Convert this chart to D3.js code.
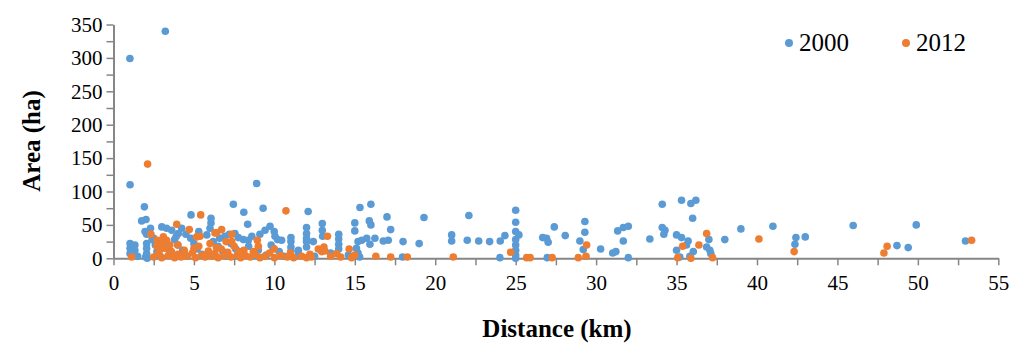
<!DOCTYPE html>
<html>
<head>
<meta charset="utf-8">
<script src="https://cdn.jsdelivr.net/npm/d3@7"></script>
<style>
  body { margin: 0; background: white; }
  svg text { font-family: "Liberation Serif", "Times New Roman", serif !important; }
</style>
</head>
<body>
<div id="chart"></div>
<script>
// series 2000 : distance (km) and area (ha)
var dist2000 = [1.02, 3.22, 1.03, 8.9, 1.92, 7.45, 9.3, 12.1, 8.1, 1.75, 2.02, 4.82, 6.06, 6.06, 6.0, 8.34,
  3.0, 3.3, 3.62, 4.24, 4.03, 1.96, 9.73, 9.99, 10.04, 10.2, 10.45, 9.42, 11.03, 11.03, 11.03, 11.03,
  12.0, 12.0, 12.0, 12.0, 12.0, 12.42, 12.98, 12.98, 13.0, 14.0, 14.0, 14.0, 14.0,
  6.93, 7.55, 7.76, 8.07, 8.38, 9.93, 11.49, 1.03, 1.33, 1.03, 1.03, 1.33, 2.06, 2.06, 2.06, 2.06, 2.0, 2.1, 1.5,
  15.32, 16.0, 17.0, 19.3, 15.0, 15.0, 15.9, 16.0, 17.23, 15.2, 15.43, 15.74, 16.25, 15.94, 16.77, 17.08,
  15.1, 15.2, 15.3, 18.0, 19.0, 17.97, 14.6,
  22.09, 21.02, 21.02, 21.99, 22.7, 23.38, 24.04, 24.33, 24.02, 25, 25, 25, 25.2, 25, 25, 25, 25, 25,
  27.4, 26.68, 26.92, 27.02, 28.08, 29.3, 29.3, 28.99, 29.2, 26.96, 30.28, 31.03, 31.23, 31.34, 31.69, 32.0, 31.69, 32.0,
  33.34, 34.11, 34.11, 34.28, 34.21, 35.31, 35.89, 36.2, 36.0, 35.0, 35.31, 35.72, 35.62, 35.0, 35.2, 36.04, 35.83,
  37.01, 36.87, 37.07, 37.13, 38.0, 39.0, 40.99, 42.42, 42.36, 43.0, 45.98, 48.7, 49.4, 49.9, 52.96,
  2.5, 2.6, 2.7, 2.9, 3.1, 3.3, 3.5, 3.8, 4.0, 4.3, 4.5, 4.8, 5.0, 5.2, 5.5, 5.8, 6.2, 6.5, 6.8, 7.0,
  7.3, 7.6, 8.0, 8.4, 8.7, 9.0, 9.5, 9.8, 10.3, 10.6, 11.5, 12.5, 13.5, 4.5, 5.3, 3.9, 6.6, 7.2, 2.3, 2.4, 8.6, 9.1];
var area2000 = [299, 340, 110, 112, 77, 81, 75, 70, 69, 56, 58, 65, 60, 53, 45, 51,
  47, 45, 42, 45, 37, 40, 48, 40, 33, 28, 27, 42, 31, 25, 17, 11,
  46, 37, 30, 25, 17, 25, 52, 42, 33, 36, 29, 21, 14,
  33, 37, 31, 28, 27, 15, 12, 22, 20, 15, 7, 12, 36, 22, 15, 7, 2, 0, 3,
  76, 81, 62, 61, 53, 41, 56, 50, 43, 25, 27, 30, 30, 21, 26, 27,
  15, 8, 2, 25, 22, 2, 5,
  64, 35, 26, 27, 26, 25, 26, 34, 1, 72, 54, 40, 35, 28, 20, 12, 5, 0,
  47, 31, 30, 24, 34, 55, 39, 26, 13, 1, 14, 8, 10, 41, 46, 48, 26, 1,
  29, 81, 46, 42, 36, 87, 82, 87, 60, 35, 31, 26, 20, 12, 2, 10, 3,
  28, 17, 12, 7, 28, 44, 48, 31, 21, 32, 49, 19, 16, 50, 26,
  30, 20, 10, 3, 25, 15, 5, 28, 20, 12, 4, 30, 22, 14, 6, 35, 25, 18, 10, 3,
  22, 14, 8, 18, 4, 12, 5, 20, 10, 3, 6, 3, 8, 36, 40, 33, 30, 36, 45, 28, 33, 36];

// series 2012
var dist2012 = [2.12, 10.72, 5.42, 3.93, 4.71, 6.41, 6.72, 7.35, 7.35, 2.33, 5.17, 5.38, 3.1, 3.3, 2.72, 8.94,
  13.3, 14.65, 8.1, 8.69, 12.73, 13.08, 1.13, 6.31, 12.21, 12.94, 13.14, 13.87, 14.12, 16.31, 17.23, 18.26,
  21.12, 24.69, 25.68, 25.9, 27.27, 28.89, 29.37, 29.41, 35.38, 35.07, 35.89, 36.39, 36.87, 37.24, 40.12,
  42.31, 48.09, 47.89, 53.34,
  2.5, 2.8, 3.0, 3.2, 3.4, 3.6, 3.8, 4.0, 4.2, 4.4, 4.6, 4.9, 5.1, 5.3, 5.5, 5.7, 5.9, 6.1, 6.3, 6.5,
  6.7, 6.9, 7.1, 7.3, 7.5, 7.7, 7.9, 8.2, 8.5, 8.8, 9.1, 9.4, 9.7, 10.0, 10.4, 10.8, 11.2, 11.7, 12.0,
  2.7, 3.0, 4.0, 6.0, 7.0, 2.9, 5.0, 6.4, 7.8, 9.0, 3.5, 10.0, 11.0, 12.3, 13.5, 14.8, 15.0];
var area2012 = [141, 71, 65, 51, 43, 38, 43, 36, 25, 36, 32, 33, 32, 27, 27, 27,
  33, 14, 12, 10, 14, 17, 2, 38, 6, 10, 11, 7, 2, 3, 2, 2,
  2, 9, 1, 1, 1, 1, 3, 20, 18, 1, 0, 20, 37, 1, 29,
  10, 18, 8, 27,
  2, 8, 1, 15, 4, 10, 1, 6, 2, 12, 3, 8, 1, 18, 5, 2, 11, 3, 7, 1,
  14, 4, 9, 2, 18, 5, 1, 4, 2, 6, 1, 3, 8, 1, 4, 2, 1, 3, 1,
  18, 22, 20, 22, 25, 13, 15, 16, 10, 18, 20, 14, 8, 2, 3, 1, 5];

// axis ticks and legend
var xTicks = [0, 5, 10, 15, 20, 25, 30, 35, 40, 45, 50, 55];
var yTicks = [0, 50, 100, 150, 200, 250, 300, 350];
var seriesNames = ["2000", "2012"];
var seriesColors = ["#5b9bd5", "#ed7d31"];

var width = 1024;
var height = 352;
var axisColor = "#868686";

var x = d3.scaleLinear().domain([0, 55]).range([113.5, 998.3]);
var y = d3.scaleLinear().domain([0, 350]).range([258.3, 24.5]);

var svg = d3.select("#chart")
            .append("svg")
            .attr("width", width)
            .attr("height", height);

// minor ticks every 2.5 km / 25 ha, labels on the major values only
var xAxis = d3.axisBottom(x)
              .tickValues(d3.range(0, 55.01, 2.5))
              .tickSize(7)
              .tickSizeOuter(0)
              .tickFormat(function(d) { return xTicks.indexOf(d) >= 0 ? d : ""; });

var yAxis = d3.axisLeft(y)
              .tickValues(d3.range(0, 350.01, 25))
              .tickSize(7)
              .tickSizeOuter(0)
              .tickFormat(function(d) { return yTicks.indexOf(d) >= 0 ? d : ""; });

var gx = svg.append("g")
            .attr("transform", "translate(0," + y(0) + ")")
            .call(xAxis);

var gy = svg.append("g")
            .attr("transform", "translate(" + x(0) + ",0)")
            .call(yAxis);

// d3 puts sans-serif 10 on the axis group, swap it for the serif face
[gx, gy].forEach(function(g) {
  g.attr("font-family", "Liberation Serif")
   .attr("font-size", 21);
  g.select(".domain").attr("stroke", axisColor).attr("stroke-width", 2);
  g.selectAll(".tick line").attr("stroke", axisColor).attr("stroke-width", 1.5);
  g.selectAll(".tick text")
   .attr("fill", "#000")
   .style("font-family", "Liberation Serif")
   .style("font-size", "21px");
});
gx.selectAll(".tick text").attr("dy", "0.95em").attr("y", 12);
gy.selectAll(".tick text").attr("x", -11);

// points, 2000 first so 2012 sits on top
var series = [
  { dist: dist2000, area: area2000 },
  { dist: dist2012, area: area2012 }
];

series.forEach(function(s, i) {
  svg.append("g")
     .selectAll("circle")
     .data(s.dist)
     .enter()
       .append("circle")
       .attr("cx", function(d) { return x(d); })
       .attr("cy", function(d, j) { return y(s.area[j]); })
       .attr("r", 3.8)
       .style("fill", seriesColors[i]);
});

// axis titles
svg.append("text")
   .text("Distance (km)")
   .attr("x", 557)
   .attr("y", 337)
   .attr("text-anchor", "middle")
   .style("font-size", "25px")
   .style("font-weight", "bold");

svg.append("text")
   .text("Area (ha)")
   .attr("transform", "translate(40,141) rotate(-90)")
   .attr("text-anchor", "middle")
   .style("font-size", "25px")
   .style("font-weight", "bold");

// legend
var legend = svg.append("g");
seriesNames.forEach(function(name, i) {
  legend.append("circle")
        .attr("cx", 789 + i * 117)
        .attr("cy", 43)
        .attr("r", 4)
        .style("fill", seriesColors[i]);
  legend.append("text")
        .text(name)
        .attr("x", 799 + i * 117)
        .attr("y", 51)
        .style("font-size", "25px");
});
</script>
</body>
</html>
